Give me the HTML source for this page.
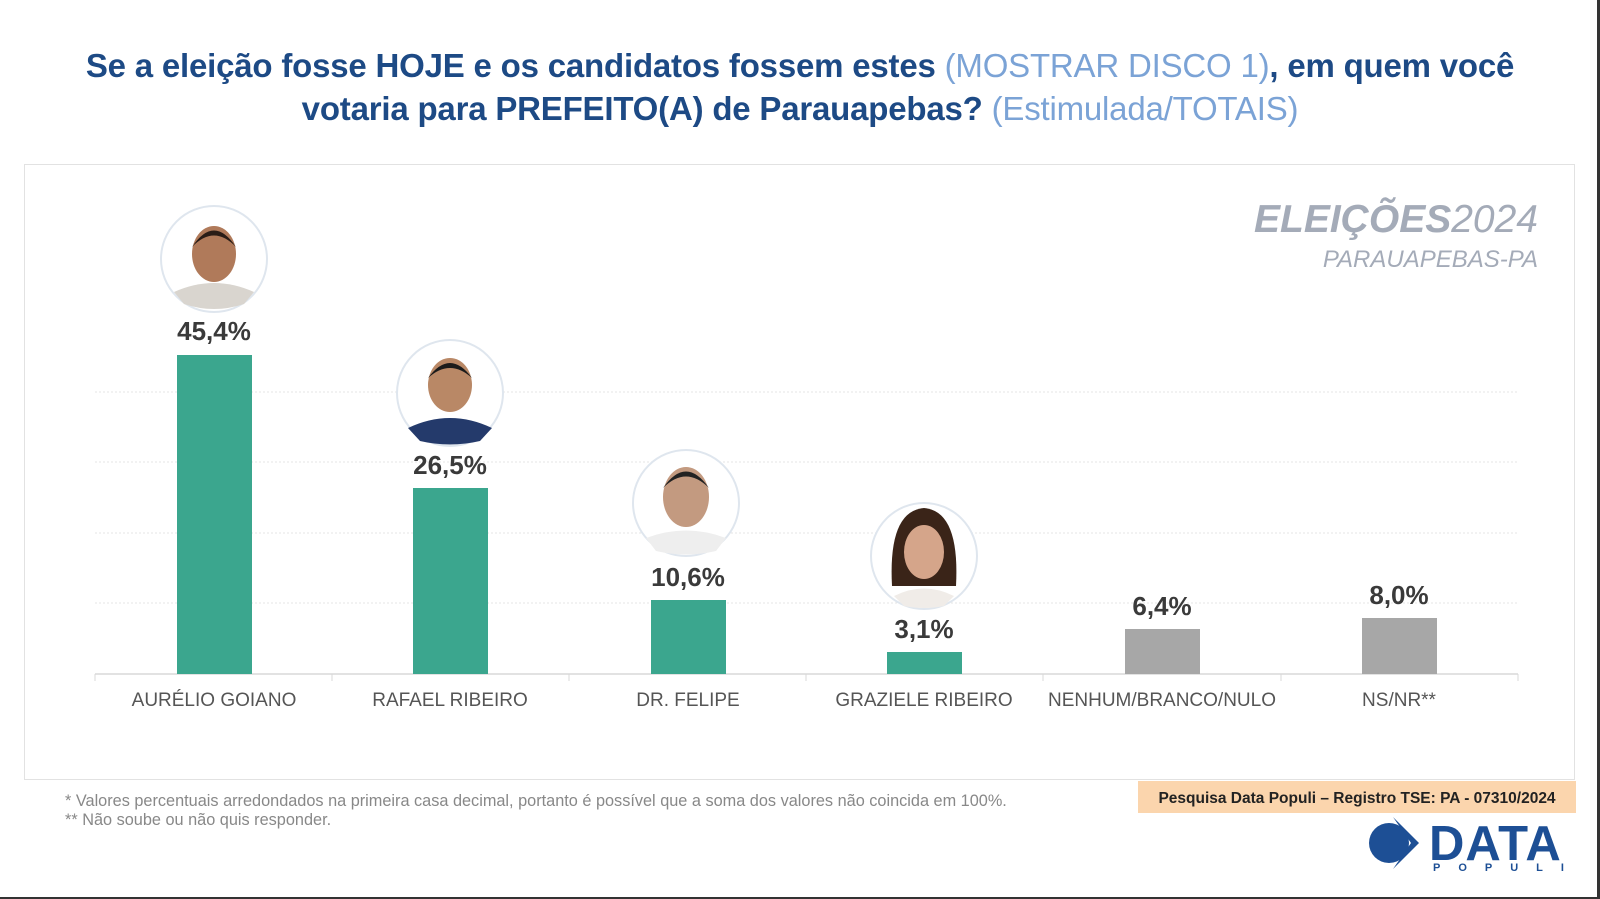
<!DOCTYPE html>
<html><head><meta charset="utf-8"><style>
body{margin:0;width:1600px;height:899px;background:#fff;font-family:"Liberation Sans",sans-serif;position:relative;overflow:hidden}
.t{position:absolute;left:0;width:1600px;text-align:center;font-size:33px;font-weight:bold;color:#1d4a85;letter-spacing:-0.2px}
.t span{font-weight:normal;color:#7ba3d6}
.box{position:absolute;left:24px;top:164px;width:1549px;height:614px;border:1px solid #e2e2e2}
.edge{position:absolute;background:#333}
</style></head><body>
<div class="t" style="top:47px">Se a eleição fosse HOJE e os candidatos fossem estes <span>(MOSTRAR DISCO 1)</span>, em quem você</div>
<div class="t" style="top:90px">votaria para PREFEITO(A) de Parauapebas? <span>(Estimulada/TOTAIS)</span></div>
<div class="box"></div>
<div class="edge" style="left:1597px;top:0;width:3px;height:899px"></div>
<div class="edge" style="left:0;top:897px;width:1600px;height:2px"></div>
<svg width="1600" height="899" style="position:absolute;left:0;top:0" font-family="Liberation Sans, sans-serif">
<g stroke="#e4e4e4" stroke-width="1" stroke-dasharray="2,2">
<line x1="95" x2="1518" y1="392" y2="392"/><line x1="95" x2="1518" y1="462" y2="462"/>
<line x1="95" x2="1518" y1="533" y2="533"/><line x1="95" x2="1518" y1="603" y2="603"/>
</g>
<line x1="95" x2="1518" y1="674" y2="674" stroke="#d8d8d8" stroke-width="1.5"/>
<g stroke="#d8d8d8"><line x1="95" x2="95" y1="674" y2="681"/><line x1="332" x2="332" y1="674" y2="681"/><line x1="569" x2="569" y1="674" y2="681"/><line x1="806" x2="806" y1="674" y2="681"/><line x1="1043" x2="1043" y1="674" y2="681"/><line x1="1281" x2="1281" y1="674" y2="681"/><line x1="1518" x2="1518" y1="674" y2="681"/></g>
<g fill="#3ba68e">
<rect x="177" y="355" width="75" height="319"/>
<rect x="413" y="488" width="75" height="186"/>
<rect x="651" y="600" width="75" height="74"/>
<rect x="887" y="652" width="75" height="22"/>
</g>
<g fill="#a7a7a7"><rect x="1125" y="629" width="75" height="45"/><rect x="1362" y="618" width="75" height="56"/></g>
<g font-size="26" font-weight="bold" fill="#3a3a3a" text-anchor="middle">
<text x="214" y="340">45,4%</text><text x="450" y="474">26,5%</text><text x="688" y="586">10,6%</text>
<text x="924" y="638">3,1%</text><text x="1162" y="615">6,4%</text><text x="1399" y="604">8,0%</text>
</g>
<g font-size="19" fill="#555" text-anchor="middle">
<text x="214" y="706">AURÉLIO GOIANO</text><text x="450" y="706">RAFAEL RIBEIRO</text><text x="688" y="706">DR. FELIPE</text>
<text x="924" y="706">GRAZIELE RIBEIRO</text><text x="1162" y="706">NENHUM/BRANCO/NULO</text><text x="1399" y="706">NS/NR**</text>
</g>
<g>
<g transform="translate(214,259)"><circle r="53" fill="#fff" stroke="#dfe6ee" stroke-width="2"/><path d="M-40,33 Q0,15 40,33 L30,45 Q0,55 -30,45Z" fill="#d9d5cf"/><ellipse cx="0" cy="-5" rx="22" ry="28" fill="#b07a5a"/><path d="M-22,-12 Q0,-45 22,-12 Q0,-35 -22,-12Z" fill="#2a1d17"/></g>
<g transform="translate(450,393)"><circle r="53" fill="#fff" stroke="#dfe6ee" stroke-width="2"/><path d="M-42,35 Q0,15 42,35 L30,48 Q0,55 -30,48Z" fill="#243a6b"/><ellipse cx="0" cy="-8" rx="22" ry="27" fill="#b98866"/><path d="M-22,-15 Q0,-45 22,-15 Q0,-35 -22,-15Z" fill="#1b1b1b"/></g>
<g transform="translate(686,503)"><circle r="53" fill="#fff" stroke="#dfe6ee" stroke-width="2"/><path d="M-40,35 Q0,20 40,35 L30,48 Q0,55 -30,48Z" fill="#eee"/><ellipse cx="0" cy="-6" rx="23" ry="30" fill="#c39a80"/><path d="M-23,-15 Q0,-48 23,-15 Q0,-38 -23,-15Z" fill="#222"/></g>
<g transform="translate(924,556)"><circle r="53" fill="#fff" stroke="#dfe6ee" stroke-width="2"/><path d="M-32,30 Q-36,-45 0,-48 Q36,-45 32,30Z" fill="#3a2418"/><ellipse cx="0" cy="-4" rx="20" ry="27" fill="#d5a58a"/><path d="M-30,40 Q0,25 30,40 L20,50 Q0,54 -20,50Z" fill="#f0ece8"/></g>
</g>
<text x="1538" y="232" text-anchor="end" font-size="39" font-style="italic" fill="#a4abb8"><tspan font-weight="bold">ELEIÇÕES</tspan>2024</text>
<text x="1538" y="267" text-anchor="end" font-size="24" font-style="italic" fill="#a4abb8">PARAUAPEBAS-PA</text>
<text x="65" y="806" font-size="16.3" fill="#888">*  Valores percentuais arredondados na primeira casa decimal, portanto é possível que a soma dos valores não coincida em 100%.</text>
<text x="65" y="825" font-size="16.3" fill="#888">** Não soube ou não quis responder.</text>
<rect x="1138" y="781" width="438" height="32" fill="#fbd5ad"/>
<text x="1357" y="803" text-anchor="middle" font-size="15.5" font-weight="bold" fill="#222">Pesquisa Data Populi – Registro TSE: PA - 07310/2024</text>
<circle cx="1389" cy="843" r="20" fill="#1d4f95"/>
<path d="M1393,817 L1419,843 L1393,869 L1411,843Z" fill="#1d4f95"/>
<text x="1429" y="860" font-size="49" font-weight="bold" fill="#1d4f95" letter-spacing="1">DATA</text>
<text x="1433" y="871" font-size="11" font-weight="bold" fill="#1d4f95" letter-spacing="18">POPULI</text>
</svg>
</body></html>
